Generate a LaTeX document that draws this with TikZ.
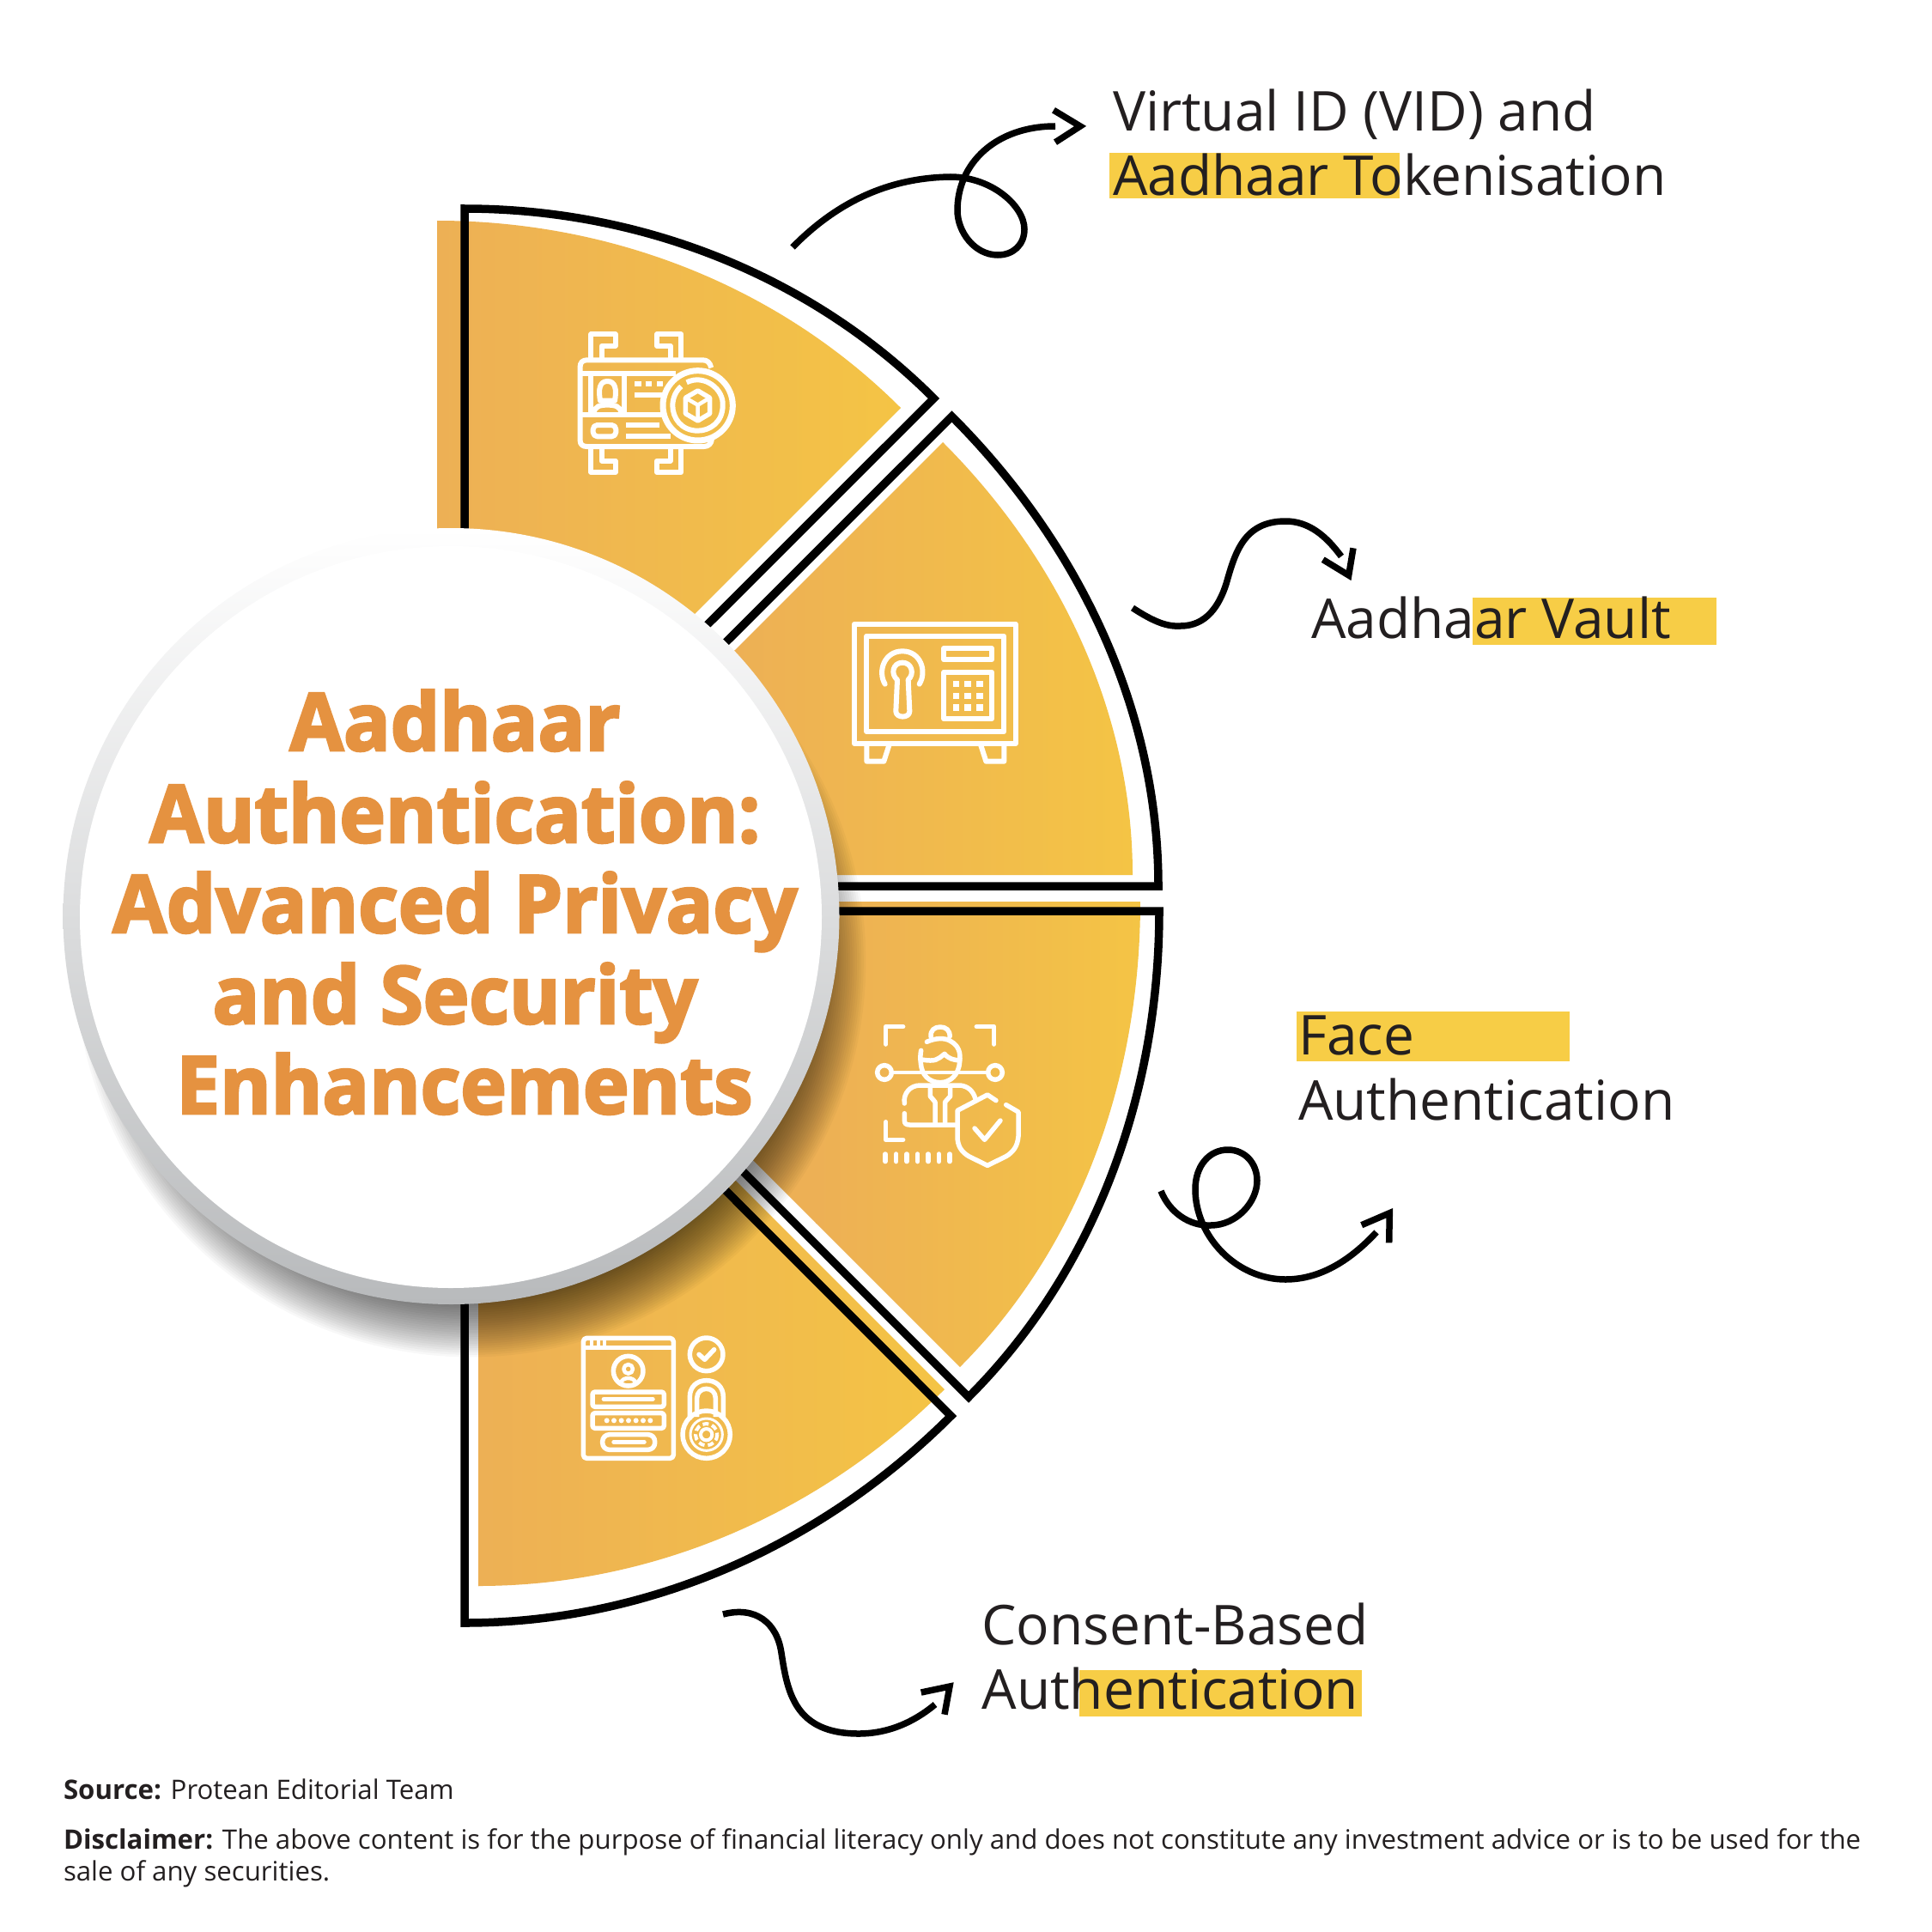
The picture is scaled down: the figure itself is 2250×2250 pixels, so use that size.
\documentclass[tikz,border=0pt]{standalone}
\usepackage{fontspec}
\setmainfont{Open Sans}
\newfontfamily\hdfont{Open Sans}[BoldFeatures={FakeBold=3,FakeStretch=0.975}]
\usetikzlibrary{calc}
\definecolor{goldL}{HTML}{EDB055}
\definecolor{goldR}{HTML}{F4C445}
\definecolor{hilite}{HTML}{F7CD46}
\definecolor{ink}{HTML}{231F20}
\definecolor{heading}{HTML}{E59240}
\definecolor{ringM}{HTML}{E9EAEB}
\definecolor{ringB}{HTML}{B8BABC}
\definecolor{goldM}{HTML}{F1BD4A}
\tikzset{
  outline/.style={draw=black,line width=9.5pt,miter limit=10,line join=miter},
  curl/.style={draw=black,line width=7.5pt,line cap=butt},
  chevron/.style={draw=black,line width=7.5pt,line join=miter,miter limit=10},
  icn/.style={draw=white,line width=6pt,line join=round,line cap=butt},
  icr/.style={draw=white,line width=5.5pt,line join=round,line cap=round},
  lab/.style={anchor=base west,inner sep=0pt,outer sep=0pt,text=ink,font=\fontsize{64}{64}\selectfont},
  hd/.style={anchor=base,inner sep=0pt,outer sep=0pt,text=heading,font=\hdfont\bfseries\fontsize{93}{93}\selectfont},
  foot/.style={anchor=base west,inner sep=0pt,outer sep=0pt,text=ink,font=\fontsize{31.2}{31.2}\selectfont},
  iconscale/.style={x=0.33333pt,y=-0.33333pt},
}
\newcommand{\goldsector}[3]{%
  \begin{scope}\clip #1;\fill[goldL] (0,0) rectangle (#2+1,2250);\shade[left color=goldL,right color=goldR] (#2,0) rectangle (#3,2250);\end{scope}}
\begin{document}
\begin{tikzpicture}[x=1pt,y=-1pt]
\useasboundingbox (0,0) rectangle (2250,2250);
\fill[white] (0,0) rectangle (2250,2250);

% gold sectors
\goldsector{(509,257) .. controls (710.8,257) and (906.3,332.3) .. (1049,475) -- (509,1015) -- cycle}{509}{1049}
\goldsector{(1098,515) .. controls (1232.8,649.8) and (1319,828.3) .. (1319,1019) -- (594,1019) -- cycle}{855}{1319}
\goldsector{(1328,1050) .. controls (1328,1251.4) and (1260.4,1449.6) .. (1118,1592) -- (576,1050) -- cycle}{950}{1328}
\goldsector{(1100,1618) .. controls (955.6,1762.4) and (761,1847) .. (557,1847) -- (557,1075) -- cycle}{557}{1100}

% black outlines
\draw[outline] (541,243) .. controls (745,243) and (943.5,320) .. (1087.5,464) -- (541,1010) -- cycle;
\draw[outline] (1108.5,485) .. controls (1254.9,631.4) and (1349,825) .. (1349,1032) -- (561,1032) -- cycle;
\draw[outline] (1350,1061) .. controls (1350,1271.7) and (1277,1478) .. (1128,1627) -- (562,1061) -- cycle;
\draw[outline] (1107.5,1649) .. controls (956.5,1800) and (754.6,1890) .. (541,1890) -- (541,1082) -- cycle;

% shadow
\foreach \r in {385,387.6,...,462}{\fill[black,opacity=0.027] (548,1120) circle[radius=\r];}

% hub
\shade[top color=white,middle color=ringM,bottom color=ringB] (525.5,1067) circle[radius=452];
\fill[white] (525,1068) circle[radius=432];

\node[hd] (h1) at (530,874) {Aadhaar};
\node[hd] (h2) at (530,981) {Authentication:};
\node[hd] (h3) at (530,1086) {Advanced Privacy};
\node[hd] (h4) at (530,1192) {and Security};
\node[hd] (h5) at (541,1297) {Enhancements};

% highlight bars
\fill[hilite] (1291.5,178) rectangle (1630,231.5);
\fill[hilite] (1715,696) rectangle (1999,750.5);
\fill[hilite] (1510,1178) rectangle (1828,1235.5);
\fill[hilite] (1257,1944.5) rectangle (1586,1999);

% labels
\node[lab] (l1a) at (1296,152.5) {Virtual ID (VID) and};
\node[lab] (l1b) at (1296,227.5) {Aadhaar Tokenisation};
\node[lab] (l2) at (1527,743) {Aadhaar Vault};
\node[lab] (l3a) at (1512,1228) {Face};
\node[lab] (l3b) at (1512,1304) {Authentication};
\node[lab] (l4a) at (1143.5,1915) {Consent-Based};
\node[lab] (l4b) at (1143.5,1990) {Authentication};

% curly connectors
\coordinate (c1s) at (923,288); \coordinate (c1e) at (1229,147);
\coordinate (c2s) at (1319,708); \coordinate (c2e) at (1562,648);
\coordinate (c3s) at (1352,1387); \coordinate (c3e) at (1603,1435);
\coordinate (c4s) at (842,1880); \coordinate (c4e) at (1089,1985);
\draw[curl] (c1s) .. controls (975,235) and (1035,207) .. (1107,206) .. controls (1155,206) and (1193,240) .. (1193,267) .. controls (1193,285) and (1180,297) .. (1162,297) .. controls (1135,297) and (1115,270) .. (1115,245) .. controls (1115,190) and (1160,147) .. (c1e);
\draw[chevron] (1227,128.3) -- (1258,147) -- (1229,165.7);
\draw[curl] (c2s) .. controls (1345,725) and (1360,730) .. (1375,729) .. controls (1405,729) and (1420,705) .. (1428,680) .. controls (1438,645) and (1448,607) .. (1497,607) .. controls (1525,607) and (1545,625) .. (c2e);
\draw[chevron] (1540.7,651.7) -- (1570.7,670) -- (1576,638.3);
\draw[curl] (c3s) .. controls (1362,1412) and (1385,1428) .. (1410,1427) .. controls (1440,1427) and (1464,1400) .. (1464,1375) .. controls (1464,1355) and (1450,1339) .. (1430,1339) .. controls (1408,1339) and (1392,1358) .. (1392,1385) .. controls (1392,1440) and (1440,1490) .. (1497,1490) .. controls (1540,1490) and (1575,1465) .. (c3e);
\draw[chevron] (1585.7,1426.7) -- (1618.3,1412.7) -- (1617.7,1447.3);
\draw[curl] (c4s) .. controls (880,1870) and (905,1890) .. (910,1925) .. controls (917,1970) and (925,2019) .. (1000,2019) .. controls (1035,2019) and (1065,2005) .. (c4e);
\draw[chevron] (1072.7,1971) -- (1106,1964) -- (1100,1996.7);

% icon 1: ID card with cube
\begin{scope}[shift={(650,360)},iconscale]
\draw[icn] (535,205) .. controls (530,185) and (520,178) .. (505,178) -- (100,178) .. controls (85,178) and (77,188) .. (77,200) -- (77,460) .. controls (77,472) and (85,480) .. (100,480) -- (510,480) .. controls (525,480) and (535,470) .. (537,455);
\draw[icn] (77,225) -- (410,225) (77,368) -- (370,368) (115,225) -- (115,368) (230,225) -- (230,368);
\draw[icn] (147,320) .. controls (140,280) and (145,252) .. (172,252) .. controls (200,252) and (205,280) .. (198,320) -- cycle;
\draw[icn] (125,362) .. controls (128,340) and (145,335) .. (172,335) .. controls (200,335) and (217,340) .. (220,362);
\draw[icn] (268,262) -- (290,262) (305,262) -- (328,262) (345,262) -- (365,262) (268,300) -- (365,300);
\draw[icn,rounded corners=5pt] (122,405) rectangle (202,445);
\draw[icn] (238,405) -- (355,405) (238,443) -- (392,443);
\draw[icn,line width=7pt,fill=goldM] (488,337) circle[radius=122];
\draw[icn] (449,256) .. controls (510,225) and (580,280) .. (575,337) .. controls (575,395) and (530,425) .. (488,425) .. controls (430,425) and (400,380) .. (400,337) .. controls (400,310) and (412,285) .. (430,270);
\draw[icn,line width=5.5pt] (488,285) -- (530,310) -- (530,365) -- (488,390) -- (445,365) -- (445,310) -- cycle;
\draw[icn,line width=4.5pt] (445,310) -- (488,335) -- (530,310) (488,335) -- (488,390);
\draw[icn] (115,170) -- (115,88) -- (200,88) -- (200,128) -- (152,128) -- (152,170);
\draw[icn] (430,170) -- (430,88) -- (345,88) -- (345,128) -- (392,128) -- (392,170);
\draw[icn] (115,490) -- (115,570) -- (200,570) -- (200,530) -- (152,530) -- (152,490);
\draw[icn] (430,490) -- (430,570) -- (345,570) -- (345,530) -- (392,530) -- (392,490);
\end{scope}

% icon 2: safe
\begin{scope}[shift={(980,710)},iconscale]
\draw[icn] (45,50) rectangle (608,468);
\draw[icn] (88,92) rectangle (568,426);
\draw[icn] (88,468) -- (88,530) -- (148,530) -- (168,468);
\draw[icn] (568,468) -- (568,530) -- (505,530) -- (485,468);
\draw[icr,line width=6pt] (152,260) .. controls (125,215) and (150,145) .. (213,145) .. controls (276,145) and (300,215) .. (272,260);
\draw[icr,line width=6pt] (195,245) .. controls (170,225) and (180,185) .. (213,185) .. controls (246,185) and (256,225) .. (233,245) -- (238,355) .. controls (238,380) and (190,380) .. (190,355) -- cycle;
\draw[icn] (358,135) rectangle (525,175);
\draw[icn] (358,218) rectangle (525,382);
\foreach \px in {400,441,483}{\foreach \py in {260,301,342}{\fill[white] ($(\px,\py)+(-11,-11)$) rectangle ($(\px,\py)+(11,11)$);}}
\end{scope}

% icon 3: face scan
\begin{scope}[shift={(1010,1170)},iconscale]
\draw[icr] (125,77) -- (65,77) -- (65,138) (382,77) -- (443,77) -- (443,138) (65,410) -- (65,472) -- (125,472);
\draw[icr] (222,112) .. controls (220,90) and (235,78) .. (255,78) .. controls (275,78) and (290,90) .. (288,112);
\draw[icr] (208,130) .. controls (235,118) and (270,112) .. (295,130) .. controls (320,145) and (327,170) .. (323,200) .. controls (320,245) and (290,272) .. (255,272) .. controls (215,272) and (190,245) .. (187,205) .. controls (185,190) and (185,175) .. (188,160);
\draw[icr] (190,192) .. controls (240,200) and (245,192) .. (270,172) .. controls (285,190) and (300,192) .. (320,195);
\draw[icr,line width=4pt] (85,237) -- (422,237);
\draw[icr] (60,237) circle[radius=25];
\draw[icr] (447,237) circle[radius=25];
\draw[icr] (130,345) .. controls (125,310) and (150,282) .. (185,282) -- (325,282) .. controls (350,285) and (370,300) .. (378,330);
\draw[icr] (130,380) -- (130,405) .. controls (130,415) and (135,420) .. (148,420) -- (310,420);
\draw[icr,line cap=butt] (220,285) -- (220,320) -- (237,340) -- (237,415) (290,285) -- (290,320) -- (272,340) -- (272,415);
\draw[icr] (450,335) -- (420,315) -- (315,370) -- (315,460) .. controls (315,495) and (330,515) .. (355,530) -- (420,562) -- (485,530) .. controls (510,515) and (525,495) .. (528,460) -- (528,375) -- (485,350);
\draw[icr] (375,432) -- (410,472) -- (465,405);
\foreach \dx in {63,101,138,176,213,250,288}{\draw[icr] (\dx,522) -- (\dx,548);}
\end{scope}

% icon 4: login + lock
\begin{scope}[shift={(670,1540)},iconscale]
\draw[icn,line width=5.5pt,rounded corners=4pt] (28,55) rectangle (343,475);
\draw[icn,line width=5.5pt] (28,88) -- (343,88);
\foreach \dx in {58,80,103}{\fill[white] ($(\dx,62)+(-6,0)$) rectangle ($(\dx,82)+(6,0)$);}
\draw[icn,line width=5.5pt] (185,170) circle[radius=52];
\draw[icn,line width=4.5pt] (185,163) circle[radius=16];
\draw[icn,line width=4.5pt] (160,210) .. controls (165,190) and (205,190) .. (210,210);
\draw[icn,line width=5.5pt,rounded corners=3pt] (60,243) rectangle (310,295);
\draw[icr] (100,268) -- (270,268);
\draw[icn,line width=5.5pt,rounded corners=3pt] (60,317) rectangle (310,370);
\foreach \dx in {110,135,161,186,212,237,262}{\fill[white] (\dx,343) circle[radius=9];}
\draw[icn,line width=5.5pt,rounded corners=8pt] (95,392) rectangle (278,445);
\draw[icr] (135,418) -- (240,418);
\draw[icn,line width=5.5pt] (458,112) circle[radius=58];
\draw[icr] (432,112) -- (452,130) -- (485,95);
\draw[icn,line width=5.5pt] (400,340) -- (400,260) .. controls (400,225) and (425,203) .. (458,203) .. controls (492,203) and (517,225) .. (517,260) -- (517,340);
\draw[icn,line width=5.5pt] (425,330) -- (425,265) .. controls (425,245) and (440,232) .. (458,232) .. controls (476,232) and (490,245) .. (490,265) -- (490,330);
\draw[icn,line width=5.5pt] (458,392) circle[radius=83];
\draw[icn,line width=3pt] (458,392) circle[radius=56];
\draw[icn,line width=4pt,dash pattern=on 7pt off 4pt] (458,392) circle[radius=38];
\draw[icn,line width=4pt] (458,392) circle[radius=20];
\end{scope}

% footer
\node[foot] (src) at (74,2095) {\textbf{Source:} Protean Editorial Team};
\node[foot] (dis1) at (74,2153) {\textbf{Disclaimer:} The above content is for the purpose of financial literacy only and does not constitute any investment advice or is to be used for the};
\node[foot] (dis2) at (74,2190) {sale of any securities.};
\end{tikzpicture}
\end{document}
